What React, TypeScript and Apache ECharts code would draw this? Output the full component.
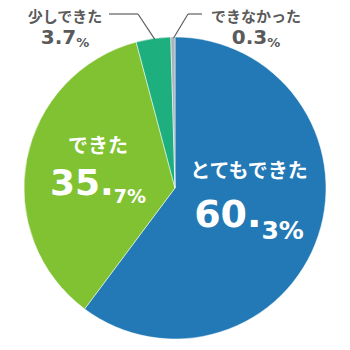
import React, { useEffect, useRef } from "react";
import * as echarts from "echarts";

const categories = ["とてもできた", "できた", "少しできた", "できなかった"];
const values = [60.3, 35.7, 3.7, 0.3];
const colors = ["#2279b5", "#80c232", "#1db07e", "#a9b3bb"];

const CX = 175;
const CY = 188;
const R = 151;

const labelPos: [number, number][] = [
  [249, 198.5],
  [98, 167.5],
  [65, 27],
  [256, 27],
];
const elbowPts: ([number, number][] | null)[] = [
  null,
  null,
  [[138, 14], [109, 14]],
  [[188, 14], [202, 14]],
];

const FONT = '"DejaVu Sans", "Noto Sans CJK JP", sans-serif';
const JFONT = '"Noto Sans CJK JP", sans-serif';

export default function App() {
  const ref = useRef<HTMLDivElement>(null);
  useEffect(() => {
    if (!ref.current) return;
    const chart = echarts.init(ref.current, null, { renderer: "svg" });
    const total = values.reduce((a, b) => a + b, 0);
    const edgePoint = (i: number): [number, number] => {
      let before = 0;
      for (let k = 0; k < i; k++) before += values[k];
      const mid = ((before + values[i] / 2) / total) * Math.PI * 2;
      return [CX + (R - 1) * Math.sin(mid), CY - (R - 1) * Math.cos(mid)];
    };
    const fmtInner = (p: any) => {
      const s = p.value.toFixed(1);
      const [a, b] = s.split(".");
      return `{n|${p.name}}\n{b|${a}.}{s|${b}%}`;
    };
    const fmtOuter = (p: any) => {
      const s = p.value.toFixed(1);
      return `{n|${p.name}}\n{b|${s}}{s|%}`;
    };
    const richBlue = {
      n: { fontSize: 20, fontWeight: "bold", color: "#fff", fontFamily: JFONT, lineHeight: 30, verticalAlign: "middle" },
      b: { fontSize: 38, fontWeight: "bold", color: "#fff", fontFamily: FONT, lineHeight: 59, verticalAlign: "middle" },
      s: { fontSize: 25, fontWeight: "bold", color: "#fff", fontFamily: FONT, lineHeight: 49, verticalAlign: "bottom" },
    };
    const richGreen = {
      n: { fontSize: 20, fontWeight: "bold", color: "#fff", fontFamily: JFONT, lineHeight: 30, verticalAlign: "middle" },
      b: { fontSize: 36, fontWeight: "bold", color: "#fff", fontFamily: FONT, lineHeight: 47, verticalAlign: "middle" },
      s: { fontSize: 19, fontWeight: "bold", color: "#fff", fontFamily: FONT, lineHeight: 35, verticalAlign: "bottom" },
    };
    const outerRich = {
      n: { fontSize: 15, fontWeight: "bold", color: "#5a5a5a", fontFamily: JFONT, lineHeight: 20, verticalAlign: "middle" },
      b: { fontSize: 20, fontWeight: "bold", color: "#5a5a5a", fontFamily: FONT, lineHeight: 24, verticalAlign: "middle" },
      s: { fontSize: 13, fontWeight: "bold", color: "#5a5a5a", fontFamily: FONT, lineHeight: 19, verticalAlign: "bottom" },
    };
    const data = categories.map((name, i) => {
      const inner = i < 2;
      return {
        name,
        value: values[i],
        itemStyle: { color: colors[i] },
        label: inner
          ? { show: true, position: "inside", formatter: fmtInner, rich: i === 0 ? richBlue : richGreen, align: "center", overflow: "none" }
          : { show: true, position: "outside", formatter: fmtOuter, rich: outerRich, align: "center", overflow: "none" },
        labelLine: { show: false },
      };
    });
    const leaders: any[] = [];
    categories.forEach((_, i) => {
      const el = elbowPts[i];
      if (!el) return;
      const pts: [number, number][] = [edgePoint(i), el[0], el[1]];
      for (let k = 0; k < pts.length - 1; k++) {
        leaders.push({
          type: "line",
          silent: true,
          z: 100,
          shape: { x1: pts[k][0], y1: pts[k][1], x2: pts[k + 1][0], y2: pts[k + 1][1] },
          style: { stroke: "#5f5f5f", lineWidth: 1.2 },
        });
      }
    });
    chart.setOption({
      animation: false,
      graphic: leaders,
      series: [
        {
          type: "pie",
          center: [CX, CY],
          radius: R,
          startAngle: 90,
          clockwise: true,
          minAngle: 1.6,
          itemStyle: { borderColor: "#fff", borderWidth: 0.5 },
          data,
          labelLayout: (params: any) => {
            const i = params.dataIndex;
            const [x, y] = labelPos[i];
            return { x, y, align: "center", verticalAlign: "middle" };
          },
        },
      ],
    });
    return () => chart.dispose();
  }, []);
  return (
    <div
      ref={ref}
      style={{ position: "fixed", left: 0, top: 0, width: 350, height: 350, background: "#fff" }}
    />
  );
}
